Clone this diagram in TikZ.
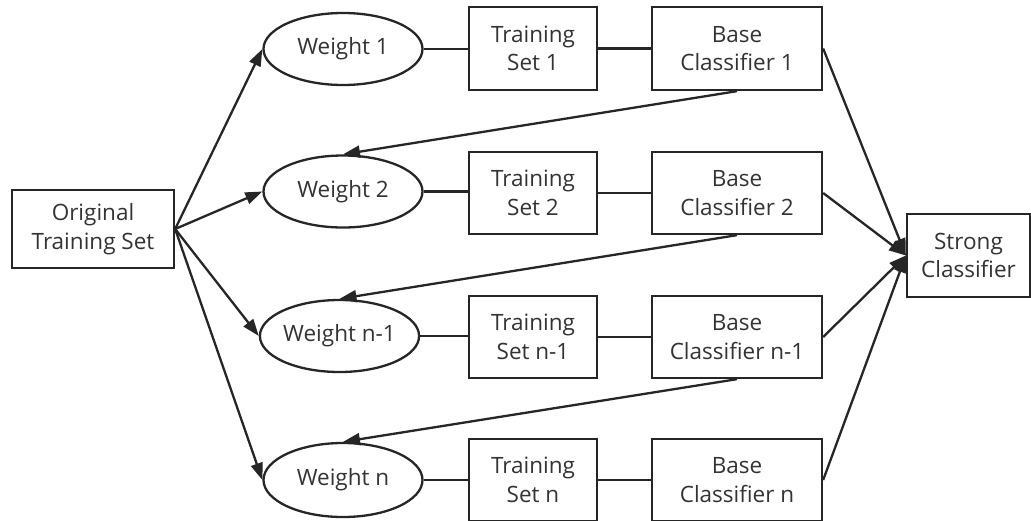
\documentclass[tikz,border=0pt]{standalone}
\usepackage{fontspec}
\setmainfont{Open Sans}
\usetikzlibrary{shapes.geometric,arrows.meta}
\definecolor{txt}{HTML}{333333}
\definecolor{ln}{HTML}{262626}
\begin{document}
\begin{tikzpicture}[x=1pt,y=-1pt,
  every node/.style={text=txt,font=\fontsize{22.5}{28.5}\selectfont,align=center,line width=2.3pt,draw=ln,inner sep=0pt},
  boxn/.style={rectangle,minimum height=82pt},
  elln/.style={ellipse,minimum width=159pt,minimum height=72pt},
  conn/.style={draw=ln,line width=2.3pt},
  arr/.style={conn,-{Triangle[length=17pt,width=12pt]}}
]
\useasboundingbox (0,0) rectangle (1031,520);
\node[boxn,minimum width=162pt,minimum height=78pt] (orig) at (93,229) {Original\\Training Set};

\node[elln] (w1) at (343,49) {Weight 1};
\node[elln] (w2) at (343,191.5) {Weight 2};
\node[elln,minimum width=151pt] (w3) at (339.5,336) {Weight n-1};
\node[elln,minimum height=74pt] (w4) at (343,480) {Weight n};

\node[boxn,minimum width=128pt,minimum height=83pt] (t1) at (533,48.5) {Training\\Set 1};
\node[boxn,minimum width=128pt] (t2) at (533,193) {Training\\Set 2};
\node[boxn,minimum width=128pt] (t3) at (533,337) {Training\\Set n-1};
\node[boxn,minimum width=128pt] (t4) at (533,480) {Training\\Set n};

\node[boxn,minimum width=170pt,minimum height=83pt] (b1) at (737,48.5) {Base\\Classifier 1};
\node[boxn,minimum width=170pt] (b2) at (737,193) {Base\\Classifier 2};
\node[boxn,minimum width=170pt] (b3) at (737,337) {Base\\Classifier n-1};
\node[boxn,minimum width=170pt] (b4) at (737,480) {Base\\Classifier n};

\node[boxn,minimum width=123pt,minimum height=83pt] (sc) at (968.5,255.5) {Strong\\Classifier};

\foreach \i in {1,2,3,4}{
  \draw[arr] (orig.east) -- (w\i.west);
  \draw[conn] (w\i) -- (w\i -| t\i.west);
  \draw[conn] (t\i.east) -- (b\i.west);
  \draw[arr] (b\i.east) -- (sc.west);
}
\draw[arr] (b1.south) -- (w2.north);
\draw[arr] (b2.south) -- (w3.north);
\draw[arr] (b3.south) -- (w4.north);
\end{tikzpicture}
\end{document}
